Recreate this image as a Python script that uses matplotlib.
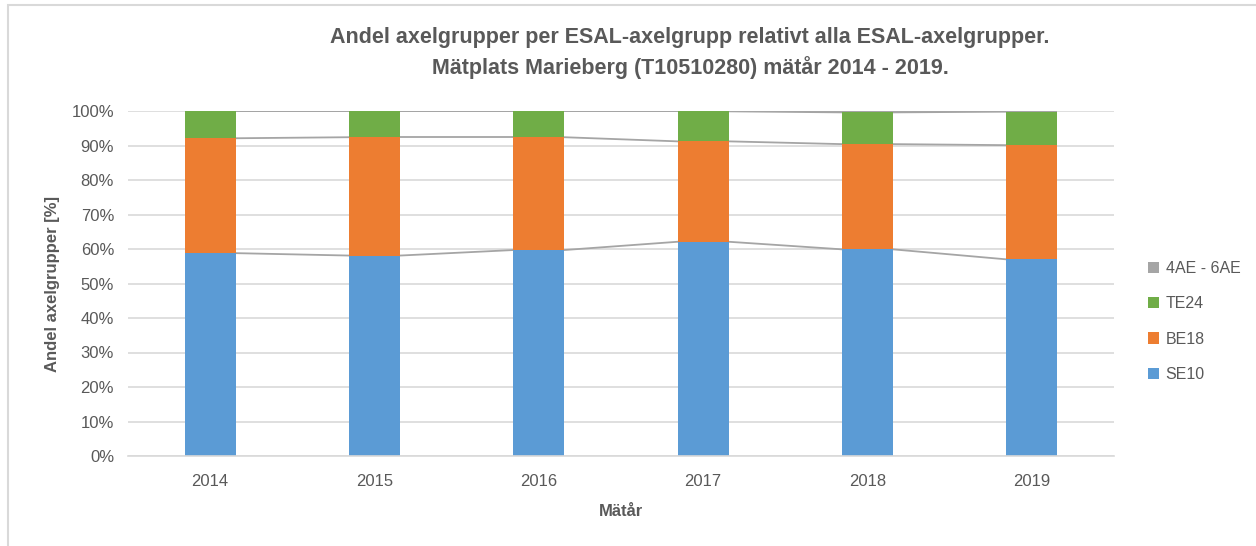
import numpy as np
import matplotlib
matplotlib.use('Agg')
import matplotlib.pyplot as plt
from matplotlib.patches import Rectangle

years = ['2014', '2015', '2016', '2017', '2018', '2019']
se10 = [58.8, 58.1, 59.7, 62.1, 59.9, 57.0]
be18 = [33.3, 34.3, 32.7, 29.1, 30.5, 33.1]
te24 = [7.8, 7.5, 7.5, 8.7, 9.2, 9.7]
ae46 = [0.1, 0.1, 0.1, 0.1, 0.4, 0.2]

names = ['SE10', 'BE18', 'TE24', '4AE - 6AE']
colors = ['#5b9bd5', '#ed7d31', '#70ad47', '#a5a5a5']
txt = '#595959'

plt.rcParams['font.family'] = ['Liberation Sans', 'DejaVu Sans']

fig = plt.figure(figsize=(12.56, 5.46), dpi=100)
fig.patches.append(Rectangle((8 / 1256, -0.1), 1.2, (546 - 5) / 546 + 0.1,
                             transform=fig.transFigure, fill=False,
                             edgecolor='#d9d9d9', lw=1.5))
ax = fig.add_axes([128 / 1256, 90 / 546, 986 / 1256, 345 / 546])

x = np.arange(len(years))
w = 0.31
series = [se10, be18, te24, ae46]
bottom = np.zeros(len(years))
handles = []
for vals, name, c in zip(series, names, colors):
    vals = np.array(vals)
    h = ax.bar(x, vals, w, bottom=bottom, color=c, label=name, zorder=2)
    handles.append(h)
    bottom = bottom + vals
    # series lines between bars
    for i in range(len(years) - 1):
        ax.plot([x[i] + w / 2, x[i + 1] - w / 2], [bottom[i], bottom[i + 1]],
                color='#a5a5a5', lw=1.3, zorder=1)

ax.set_xlim(-0.5, len(years) - 0.5)
ax.set_ylim(0, 100)
ax.set_yticks(np.arange(0, 101, 10))
ax.set_yticklabels(['%d%%' % v for v in range(0, 101, 10)])
ax.set_xticks(x)
ax.set_xticklabels(years)
ax.yaxis.grid(True, color='#d9d9d9', lw=1.2, zorder=0)
ax.set_axisbelow(True)
for s in ['top', 'right', 'left']:
    ax.spines[s].set_visible(False)
ax.spines['bottom'].set_color('#d9d9d9')
ax.spines['bottom'].set_linewidth(1.2)
ax.tick_params(length=0, labelsize=12, colors=txt)
ax.tick_params(axis='x', pad=13)
ax.tick_params(axis='y', pad=10)

ax.set_ylabel('Andel axelgrupper [%]', fontsize=12, fontweight='bold', color=txt, labelpad=8)
ax.set_xlabel('Mätår', fontsize=12, fontweight='bold', color=txt, labelpad=11)

fig.text(690 / 1256, 1 - 38 / 546, 'Andel axelgrupper per ESAL-axelgrupp relativt alla ESAL-axelgrupper.',
         ha='center', va='center', fontsize=15.5, fontweight='bold', color=txt)
fig.text(690 / 1256, 1 - 68 / 546, 'Mätplats Marieberg (T10510280) mätår 2014 - 2019.',
         ha='center', va='center', fontsize=15.5, fontweight='bold', color=txt)

leg = ax.legend(handles[::-1], names[::-1], loc='center left', bbox_to_anchor=(1.02, 0.39),
                frameon=False, fontsize=11.5, handlelength=0.7, handleheight=0.7,
                handletextpad=0.4, labelspacing=1.28)
for t in leg.get_texts():
    t.set_color(txt)

fig.savefig('out.png', dpi=100)
